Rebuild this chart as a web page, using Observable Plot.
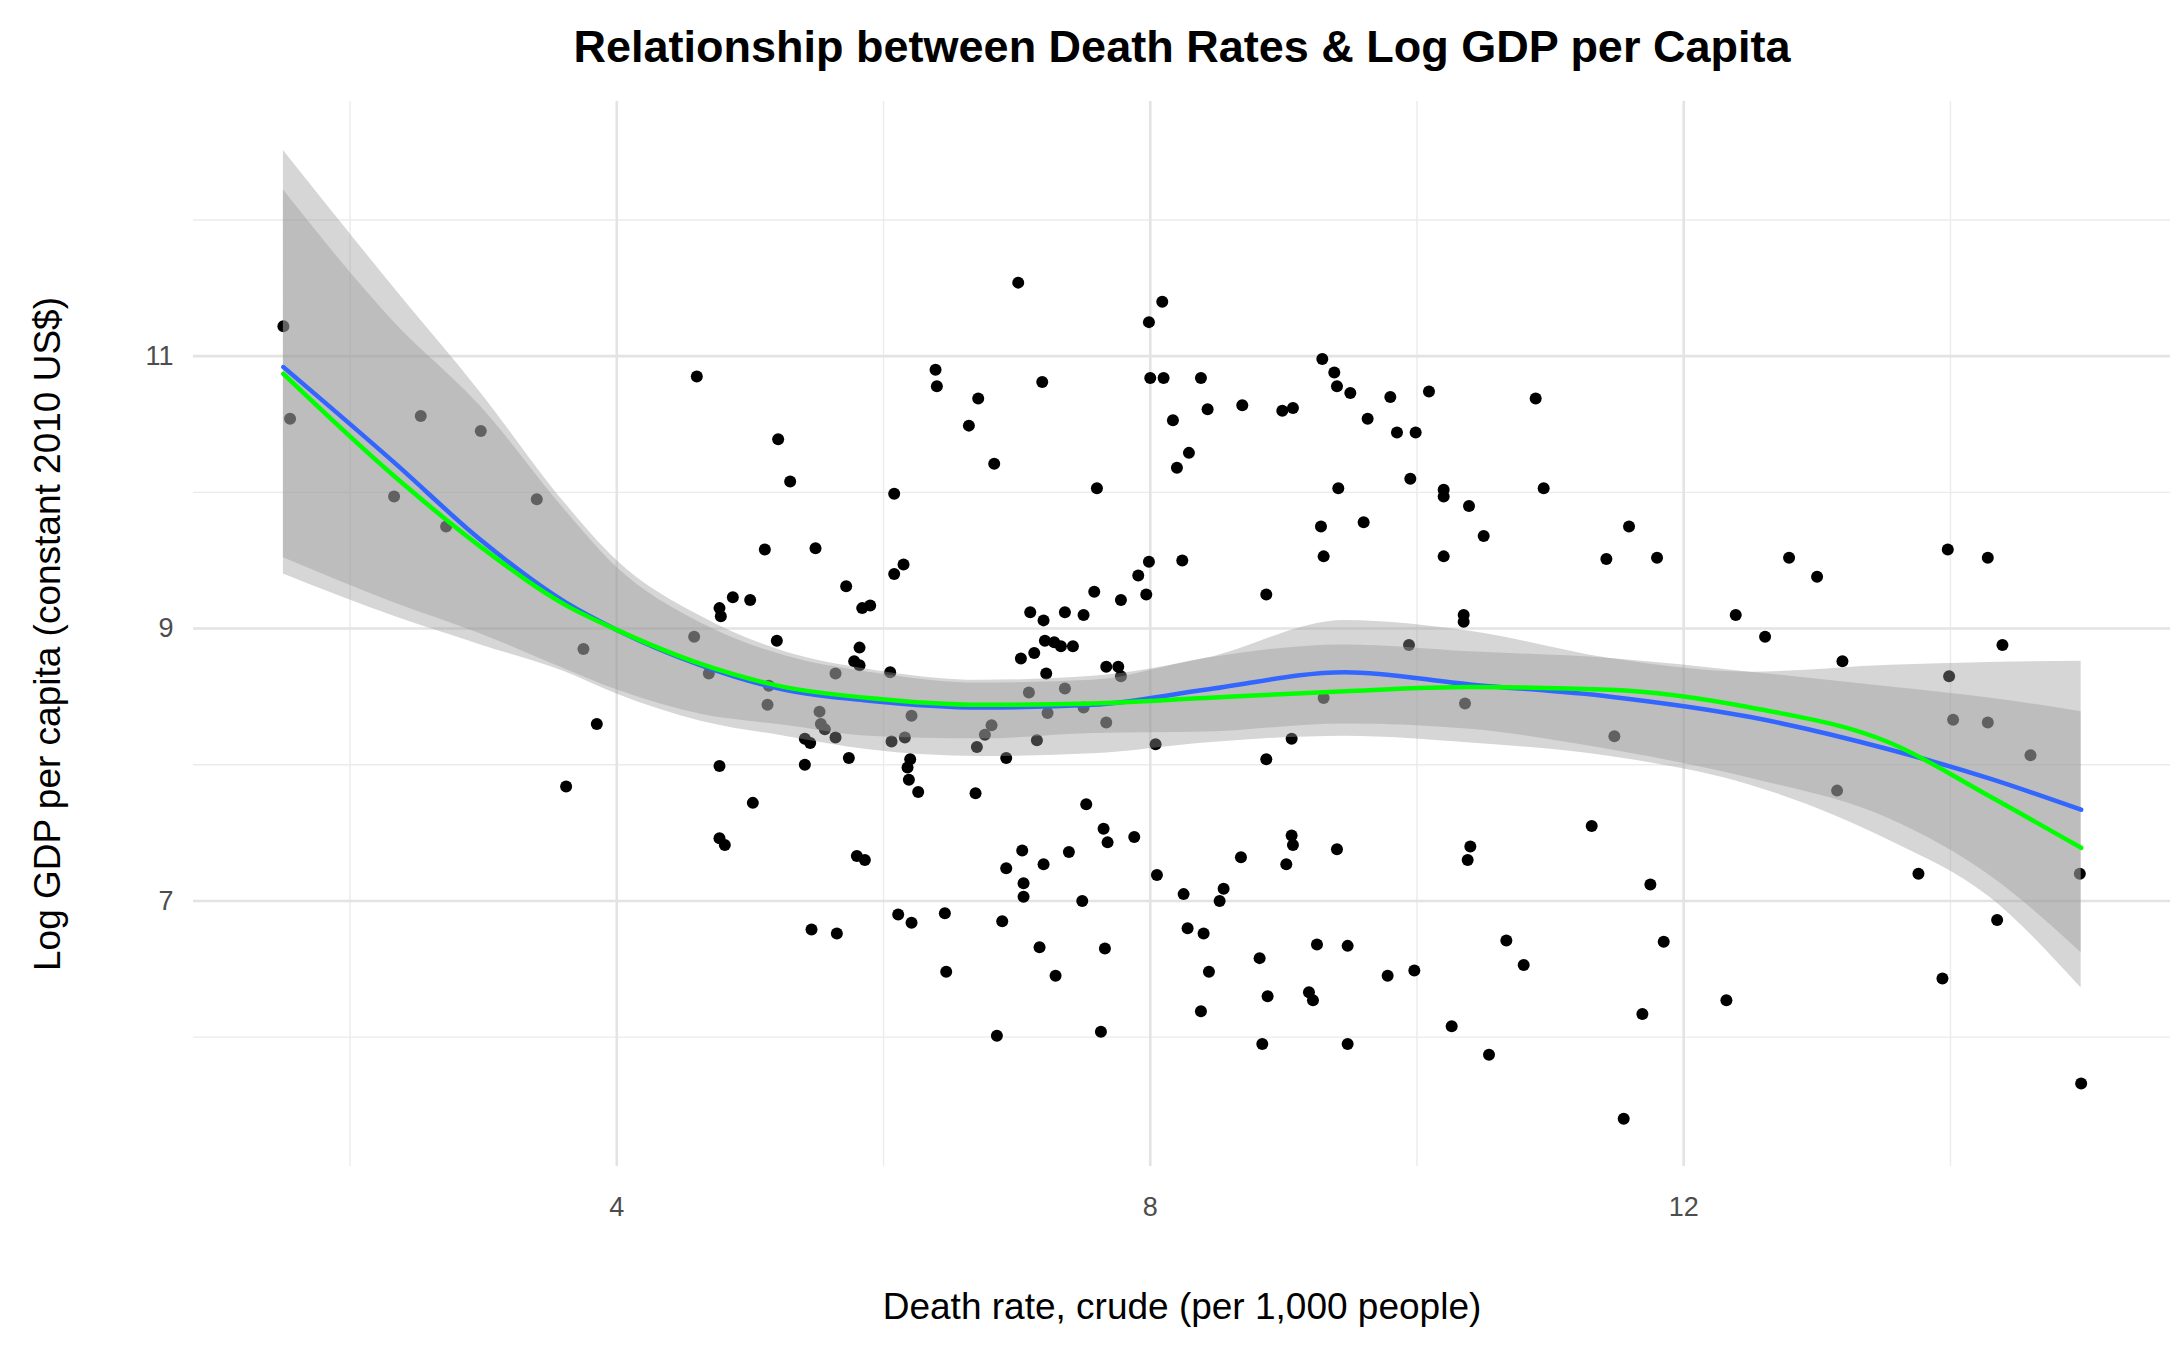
<!DOCTYPE html>
<html><head><meta charset="utf-8">
<script src="https://cdn.jsdelivr.net/npm/d3@7"></script>
<script src="https://cdn.jsdelivr.net/npm/@observablehq/plot@0.6"></script>
<style>body{margin:0;background:#fff;font-family:"Liberation Sans",Arial,sans-serif}
#t{height:90px;line-height:94px;text-align:center;font-weight:bold;font-size:45px;color:#000;padding-left:180px}</style>
</head><body>
<div id="t">Relationship between Death Rates &amp; Log GDP per Capita</div>
<div id="c"></div>
<script>
const deathRate = [1.50,1.55,2.33,2.53,2.72,2.98,3.40,3.62,3.75,3.85,4.58,4.60,4.69,4.77,4.78,4.77,4.77,4.81,4.87,5.00,5.02,5.11,5.13,5.14,5.20,5.21,5.30,5.41,5.41,5.45,5.46,5.49,5.52,5.53,5.56,5.64,5.64,5.65,5.72,5.74,5.78,5.80,5.82,5.82,5.84,5.86,5.90,6.05,6.06,6.08,6.08,6.11,6.15,6.16,6.18,6.19,6.20,6.21,6.21,6.26,6.39,6.40,6.46,6.47,6.64,6.69,6.70,6.71,6.76,6.81,6.83,6.85,6.89,6.92,6.92,7.01,7.03,7.04,7.05,7.05,7.09,7.10,7.13,7.15,7.17,7.19,7.20,7.20,7.21,7.22,7.23,7.28,7.29,7.33,7.36,7.36,7.39,7.42,7.50,7.49,7.50,7.52,7.58,7.60,7.63,7.65,7.66,7.67,7.67,7.68,7.76,7.78,7.78,7.88,7.91,7.97,7.99,7.99,8.00,8.04,8.05,8.09,8.10,8.17,8.20,8.24,8.25,8.28,8.29,8.38,8.38,8.40,8.43,8.44,8.52,8.55,8.68,8.69,8.82,8.84,8.87,8.87,8.88,8.99,9.02,9.07,9.06,9.06,9.07,9.19,9.22,9.25,9.28,9.29,9.30,9.30,9.38,9.40,9.40,9.41,9.48,9.48,9.50,9.60,9.63,9.78,9.80,9.85,9.94,9.95,9.98,9.99,10.09,10.20,10.20,10.20,10.26,10.35,10.35,10.36,10.38,10.39,10.40,10.50,10.54,10.67,10.80,10.89,10.95,11.31,11.42,11.48,11.55,11.59,11.69,11.75,11.80,11.85,12.32,12.39,12.61,12.79,13.00,13.15,13.19,13.76,13.94,13.98,13.99,14.02,14.28,14.28,14.35,14.39,14.60,14.97,14.98];
const logGdp = [11.22,10.54,9.97,10.56,9.75,10.45,9.95,7.84,8.85,8.30,8.94,10.85,8.67,9.15,9.09,7.99,7.46,7.41,9.23,9.21,7.72,9.58,8.44,8.58,8.91,10.39,10.08,8.00,8.19,8.16,6.79,9.59,8.39,8.30,8.26,8.20,8.67,6.76,9.31,8.05,8.76,7.33,8.86,8.73,9.15,7.30,9.17,8.68,8.17,9.99,9.40,6.90,9.47,8.20,7.98,7.89,8.04,8.36,6.84,7.80,10.90,10.78,6.91,6.48,10.49,7.79,8.13,10.69,8.22,8.29,10.21,6.01,6.85,8.05,7.24,11.54,8.78,7.37,7.03,7.13,8.53,9.12,8.82,8.18,6.66,10.81,9.06,7.27,8.91,8.67,8.38,8.90,6.45,8.87,9.12,8.56,7.36,8.87,9.10,7.00,8.42,7.71,9.27,10.03,6.04,7.53,6.65,8.31,8.72,7.43,8.72,9.21,8.65,7.47,9.39,9.25,11.25,9.49,10.84,8.15,7.19,11.40,10.84,10.53,10.18,9.50,7.05,6.80,10.29,10.84,6.19,6.76,10.61,6.48,7.00,7.09,7.32,10.64,6.58,5.95,8.04,9.25,6.30,10.60,7.27,10.62,8.19,7.48,7.41,6.33,6.27,6.68,9.75,10.98,9.53,8.49,10.88,7.38,10.78,10.03,5.95,6.67,10.73,9.78,10.54,6.45,10.70,10.44,8.88,10.10,6.49,10.44,10.74,10.02,9.97,9.53,6.08,9.10,9.05,8.45,7.30,9.90,7.40,9.68,5.87,6.71,6.53,10.69,10.03,7.55,9.51,8.21,5.40,9.75,6.17,7.12,9.52,6.70,6.27,9.10,8.94,9.52,9.38,7.81,8.76,7.20,6.43,9.58,8.65,8.33,9.52,8.31,6.86,8.88,8.07,7.20,5.66];

const smoothX = [1.50,2.33,2.98,3.62,4.00,4.63,5.26,5.89,6.73,7.57,8.41,9.46,10.40,11.45,12.50,13.55,14.29,14.98];
const loessY = [10.92,10.22,9.65,9.19,8.99,8.73,8.55,8.47,8.42,8.44,8.55,8.68,8.59,8.50,8.35,8.11,7.90,7.67];
const greenY = [10.87,10.12,9.60,9.17,8.99,8.74,8.57,8.49,8.44,8.45,8.49,8.54,8.57,8.55,8.42,8.16,7.77,7.39];
const bandAHi = [12.51,11.50,10.73,9.91,9.50,9.09,8.83,8.70,8.62,8.65,8.78,9.06,8.98,8.78,8.68,8.73,8.75,8.76];
const bandALo = [9.40,9.09,8.88,8.68,8.52,8.32,8.21,8.11,8.06,8.08,8.16,8.21,8.16,8.06,7.85,7.44,7.03,6.36];
const bandBHi = [12.22,11.25,10.63,9.86,9.45,9.04,8.80,8.68,8.60,8.62,8.78,8.88,8.83,8.78,8.68,8.57,8.49,8.39];
const bandBLo = [9.52,9.19,8.96,8.70,8.55,8.37,8.29,8.21,8.19,8.23,8.24,8.30,8.26,8.11,7.90,7.60,7.19,6.62];

const xMajor = [4,8,12], xMinor = [2,6,10,14];
const yMajor = [7,9,11], yMinor = [6,8,10,12];

const pts = deathRate.map((x,i)=>({x,y:logGdp[i]}));
const sm = smoothX.map((x,i)=>({x,b:loessY[i],g:greenY[i],ah:bandAHi[i],al:bandALo[i],bh:bandBHi[i],bl:bandBLo[i]}));

const chart = Plot.plot({
  width:2184, height:1260,
  marginLeft:193, marginRight:14, marginTop:11, marginBottom:184,
  style:{fontFamily:"'Liberation Sans', Arial, sans-serif", background:"#fff"},
  x:{domain:[0.826,15.65]},
  y:{domain:[5.05,12.87]},
  marks:[
    Plot.ruleX(xMinor,{stroke:"#ebebeb",strokeWidth:1.4}),
    Plot.ruleY(yMinor,{stroke:"#ebebeb",strokeWidth:1.4}),
    Plot.ruleX(xMajor,{stroke:"#e3e3e3",strokeWidth:2.6}),
    Plot.ruleY(yMajor,{stroke:"#e3e3e3",strokeWidth:2.6}),
    Plot.dot(pts,{x:"x",y:"y",r:6,fill:"#000",stroke:"none"}),
    Plot.areaY(sm,{x:"x",y1:"al",y2:"ah",fill:"#999",fillOpacity:0.4,curve:"monotone-x"}),
    Plot.areaY(sm,{x:"x",y1:"bl",y2:"bh",fill:"#999",fillOpacity:0.4,curve:"monotone-x"}),
    Plot.line(sm,{x:"x",y:"b",stroke:"#3366FF",strokeWidth:4.5,curve:"monotone-x"}),
    Plot.line(sm,{x:"x",y:"g",stroke:"#00FF00",strokeWidth:4.5,curve:"monotone-x"}),
    Plot.axisX(xMajor,{tickSize:0,tickPadding:30,fontSize:27,color:"#4d4d4d",tickFormat:d3.format("d"),label:null}),
    Plot.axisY(yMajor,{tickSize:0,tickPadding:20,fontSize:27,color:"#4d4d4d",tickFormat:d3.format("d"),label:null}),
    Plot.axisX([],{fontSize:37,color:"#000",label:"Death rate, crude (per 1,000 people)",labelAnchor:"center",labelArrow:"none",labelOffset:152}),
    Plot.axisY([],{fontSize:37,color:"#000",label:"Log GDP per capita (constant 2010 US$)",labelAnchor:"center",labelArrow:"none",labelOffset:160})
  ]
});
document.getElementById("c").appendChild(chart);
</script></body></html>
